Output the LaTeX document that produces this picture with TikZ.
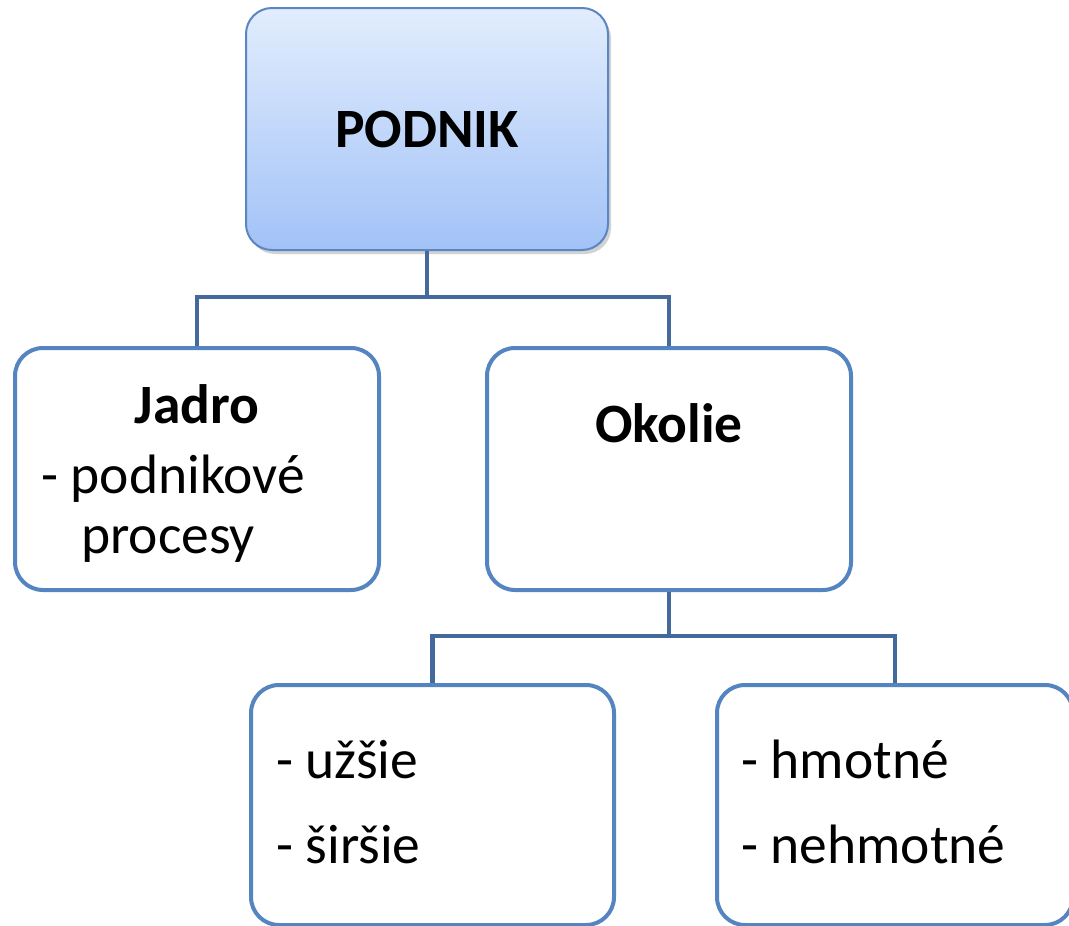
\documentclass[tikz,border=0pt]{standalone}
\usepackage{fontspec}
\setmainfont{Carlito}
\usetikzlibrary{shadows}
\definecolor{boxborder}{HTML}{5585C0}
\definecolor{topborder}{HTML}{5A86C2}
\definecolor{conn}{HTML}{44699C}
\definecolor{gradtop}{HTML}{E2EDFD}
\definecolor{gradbot}{HTML}{A2C2F7}
\begin{document}
\begin{tikzpicture}[x=1pt,y=-1pt,
  txt/.style={font=\fontsize{55.5}{66}\selectfont, inner sep=0pt, anchor=base west},
  btxt/.style={font=\fontsize{55.5}{66}\selectfont\bfseries, inner sep=0pt, anchor=base},
  childbox/.style={draw=boxborder, line width=4pt, rounded corners=28pt, fill=white, inner sep=0pt},
  topbox/.style={draw=topborder, line width=2pt, rounded corners=26pt, top color=gradtop, bottom color=gradbot, inner sep=0pt,
    drop shadow={shadow xshift=3pt, shadow yshift=-4pt, opacity=0.35, fill=black!50}},
  connector/.style={draw=conn, line width=4.5pt}]
\clip (0,0) rectangle (1069,926);
\fill[white] (0,0) rectangle (1069,926);
% boxes
\node[topbox, minimum width=362pt, minimum height=242pt] (podnik) at (427,129) {};
\node[childbox, minimum width=364pt, minimum height=242pt] (jadro) at (197,469) {};
\node[childbox, minimum width=364pt, minimum height=242pt] (okolie) at (669,469) {};
\node[childbox, minimum width=363pt, minimum height=240pt] (uzsie) at (432.5,805) {};
\node[childbox, minimum width=356pt, minimum height=240pt] (hmotne) at (895,805) {};
% connectors
\coordinate (j1) at (427,297);
\coordinate (j2) at (669,636);
\draw[connector] (podnik.south) -- (j1);
\draw[connector] (jadro.north) |- (j1) -| (okolie.north);
\draw[connector] (okolie.south) -- (j2);
\draw[connector] (uzsie.north) |- (j2) -| (hmotne.north);
% texts
\node[btxt] (tpodnik) at (427,147) {PODNIK};
\node[btxt] (tjadro) at (197,423) {Jadro};
\node[txt] (tpod) at (41,493) {- podnikové};
\node[txt] (tproc) at (81,553) {procesy};
\node[btxt] (tokolie) at (669,442) {Okolie};
\node[txt] (tuzsie) at (276,778) {- užšie};
\node[txt] (tsirsie) at (276,863) {- širšie};
\node[txt] (thmot) at (741,778) {- hmotné};
\node[txt] (tnehmot) at (741,863) {- nehmotné};
\end{tikzpicture}
\end{document}
